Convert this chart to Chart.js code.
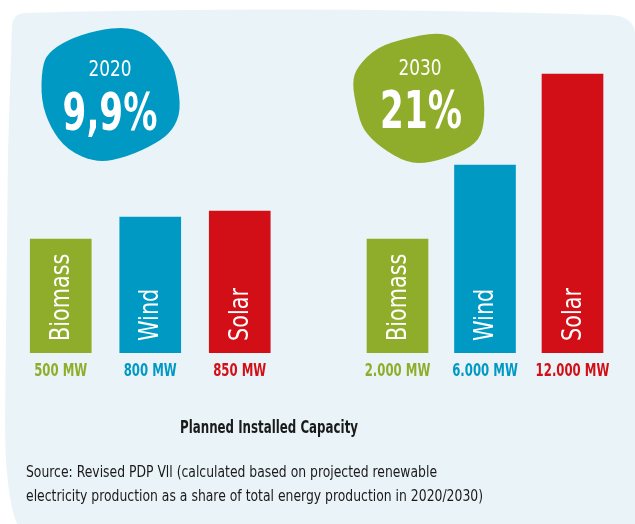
<!DOCTYPE html>
<html>
<head>
<meta charset="utf-8">
<script src="https://cdn.jsdelivr.net/npm/chart.js@4.4.1/dist/chart.umd.min.js"></script>
<style>
  html, body { margin: 0; padding: 0; background: #fff; }
  #wrap { position: relative; width: 635px; height: 524px; }
  canvas { position: absolute; top: 0; }
</style>
</head>
<body>
<div id="wrap">
  <canvas id="bg" width="635" height="524" style="left:0"></canvas>
  <canvas id="c2020" width="300" height="400" style="left:0"></canvas>
  <canvas id="c2030" width="315" height="400" style="left:320px"></canvas>
</div>
<script>
const sources = ['Biomass', 'Wind', 'Solar'];
const years = ['2020', '2030'];
const shares = ['9,9%', '21%'];
const capacity2020 = [500, 800, 850];
const capacity2030 = [2000, 6000, 12000];
// bar heights as drawn in the original graphic (not to scale with MW)
const barHeight2020 = [114, 136, 142];
const barHeight2030 = [114, 188, 279];
const colors = ['#8fad2a', '#0099c4', '#d20f16'];
const title = 'Planned Installed Capacity';
const sourceLines = [
  'Source: Revised PDP Vll (calculated based on projected renewable',
  'electricity production as a share of total energy production in 2020/2030)'
];

const FONT = "'DejaVu Sans', sans-serif";

const fmtMW = n => n.toString().replace(/\B(?=(\d{3})+(?!\d))/g, '.') + ' MW';

// the original uses a narrow DIN-like face, so squeeze text horizontally
function squeezeText(ctx, text, x, y, font, sx, align) {
  ctx.save();
  ctx.font = font;
  ctx.translate(x, y);
  ctx.scale(sx, 1);
  ctx.textAlign = align || 'center';
  ctx.fillText(text, 0, 0);
  ctx.restore();
}

function blob(ctx, pts, color) {
  ctx.beginPath();
  const n = pts.length;
  const mid = (a, b) => [(a[0] + b[0]) / 2, (a[1] + b[1]) / 2];
  let start = mid(pts[n - 1], pts[0]);
  ctx.moveTo(start[0], start[1]);
  for (let i = 0; i < n; i++) {
    const m = mid(pts[i], pts[(i + 1) % n]);
    ctx.quadraticCurveTo(pts[i][0], pts[i][1], m[0], m[1]);
  }
  ctx.closePath();
  ctx.fillStyle = color;
  ctx.fill();
}

function drawBackground() {
  const ctx = document.getElementById('bg').getContext('2d');
  ctx.fillStyle = '#eaf4f8';
  ctx.beginPath();
  ctx.moveTo(24, 13);
  ctx.quadraticCurveTo(300, 5, 612, 15);
  ctx.quadraticCurveTo(633, 17, 635, 32);
  ctx.lineTo(635, 524);
  ctx.lineTo(17, 524);
  ctx.quadraticCurveTo(5, 495, 5, 420);
  ctx.lineTo(8, 150);
  ctx.lineTo(12, 26);
  ctx.quadraticCurveTo(13, 14, 24, 13);
  ctx.fill();

  blob(ctx, [[125, 27], [97, 30], [67, 40], [48, 53], [42, 67], [41, 100], [50, 127], [67, 150],
    [97, 163], [127, 157], [157, 143], [173, 130], [181, 110], [177, 80], [172, 62], [157, 43], [143, 32]], colors[1]);
  blob(ctx, [[433, 33], [407, 38], [377, 47], [357, 67], [352, 83], [357, 110], [363, 130], [380, 147],
    [407, 163], [430, 163], [460, 153], [480, 140], [485, 117], [483, 87], [473, 63], [460, 43], [450, 35]], colors[0]);

  ctx.fillStyle = '#fff';
  squeezeText(ctx, years[0], 110, 76, '22px ' + FONT, 0.77);
  squeezeText(ctx, shares[0], 110, 130, 'bold 51px ' + FONT, 0.67);
  squeezeText(ctx, years[1], 420, 75, '22px ' + FONT, 0.77);
  squeezeText(ctx, shares[1], 421, 128, 'bold 51px ' + FONT, 0.67);

  ctx.fillStyle = '#1a1a1a';
  ctx.font = 'bold 18px ' + FONT;
  ctx.textAlign = 'center';
  ctx.fillText(title, 269, 433, 178);
  ctx.font = '15px ' + FONT;
  ctx.textAlign = 'left';
  ctx.fillText(sourceLines[0], 26, 477, 411);
  ctx.fillText(sourceLines[1], 26, 501, 457);
}

const barLabels = {
  id: 'barLabels',
  afterDatasetsDraw(chart, args, opts) {
    const ctx = chart.ctx;
    const meta = chart.getDatasetMeta(0);
    const bottom = chart.chartArea.bottom;
    meta.data.forEach((bar, i) => {
      // name inside the bar, reading upward
      ctx.save();
      ctx.fillStyle = '#fff';
      ctx.translate(bar.x + 8, bottom - 12);
      ctx.rotate(-Math.PI / 2);
      squeezeText(ctx, sources[i], 0, 0, '26px ' + FONT, 0.8, 'left');
      ctx.restore();
      // capacity below
      ctx.fillStyle = colors[i];
      squeezeText(ctx, fmtMW(opts.capacity[i]), bar.x, bottom + 23, 'bold 18px ' + FONT, 0.65);
    });
  }
};

function makeChart(id, heights, capacity, padLeft, padRight) {
  return new Chart(document.getElementById(id), {
    type: 'bar',
    data: {
      labels: sources,
      datasets: [{
        data: heights,
        backgroundColor: colors,
        borderWidth: 0,
        barThickness: 61
      }]
    },
    options: {
      responsive: false,
      animation: false,
      layout: { padding: { left: padLeft, right: padRight, top: 30, bottom: 47 } },
      plugins: {
        legend: { display: false },
        tooltip: { enabled: false },
        barLabels: { capacity: capacity }
      },
      scales: {
        x: { display: false },
        y: { display: false, min: 0, max: 323 }
      }
    },
    plugins: [barLabels]
  });
}

drawBackground();
makeChart('c2020', barHeight2020, capacity2020, 16, 15.5);
makeChart('c2030', barHeight2030, capacity2030, 33.75, 18.75);
</script>
</body>
</html>
